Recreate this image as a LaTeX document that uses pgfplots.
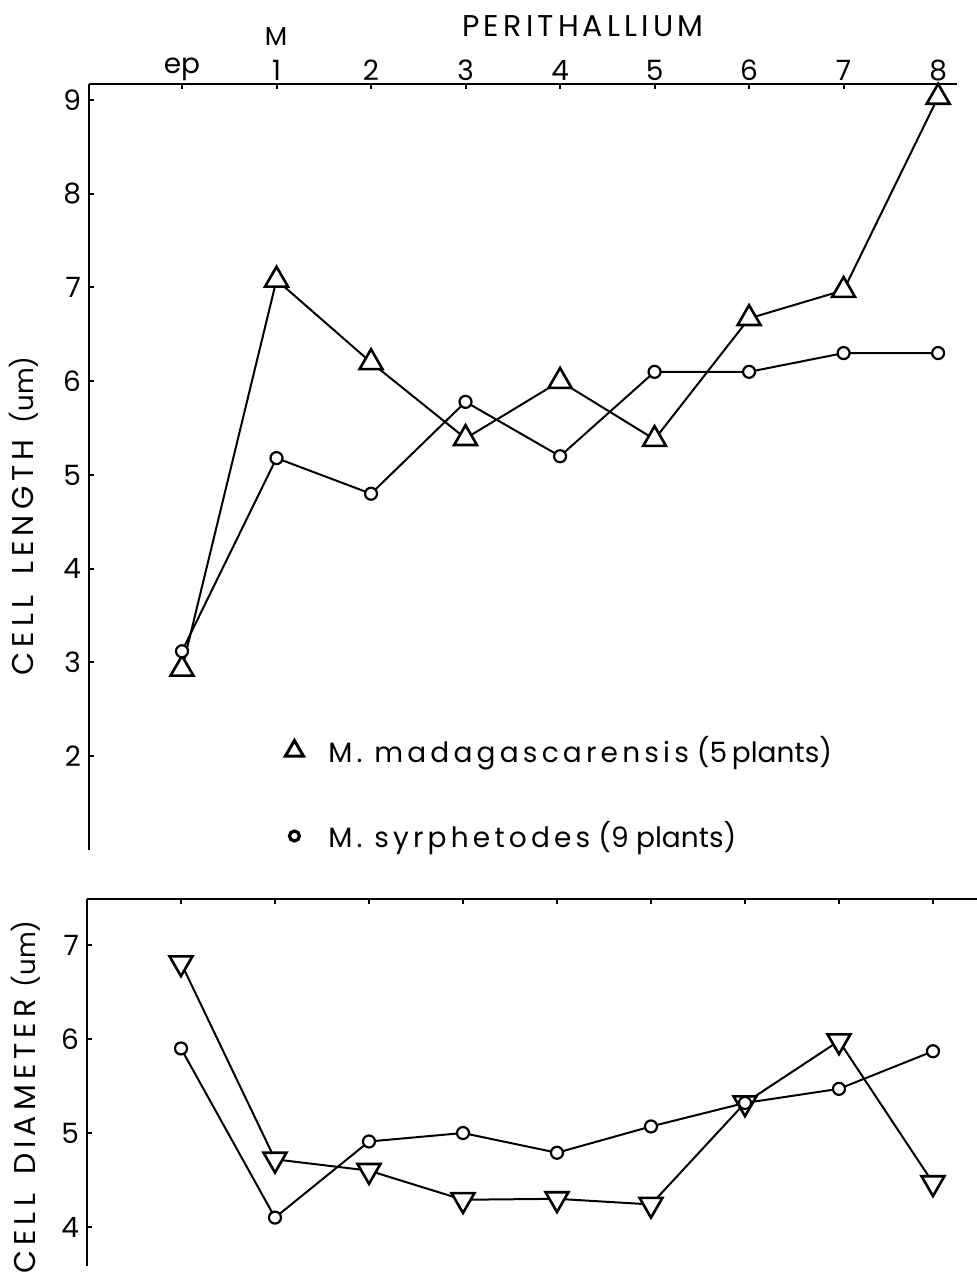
\documentclass[border=0pt]{standalone}
\usepackage{pgfplots}
\usepackage{pgfplotstable}
\pgfplotsset{compat=1.18}
\usepackage{fontspec}
\setmainfont{Poppins}
\newfontfamily\widefont[LetterSpace=17]{Poppins}
\newfontfamily\titlefont[LetterSpace=14]{Poppins}
\newfontfamily\legfont[LetterSpace=15]{Poppins}

\pgfplotstableread{
x  madL  syrL  madD  syrD
0  2.93  3.12  6.81  5.90
1  7.08  5.18  4.72  4.10
2  6.20  4.80  4.60  4.91
3  5.39  5.78  4.29  5.00
4  6.00  5.20  4.30  4.79
5  5.38  6.10  4.24  5.07
6  6.67  6.10  5.32  5.32
7  6.97  6.30  5.98  5.47
8  9.03  6.30  4.47  5.87
}\datatable

\pgfplotsset{
  base/.style={
    scale only axis, clip=false,
    axis x line=top, axis y line=left,
    axis line style={-, line width=1.2pt},
    every tick/.style={black, line width=1pt},
    tick align=inside, major tick length=2.5pt,
    xtick={0,...,8},
    /pgf/number format/assume math mode=true,
    yticklabel style={font=\fontsize{14}{14}\selectfont, xshift=-0.5pt},
    xticklabel style={font=\fontsize{14}{14}\selectfont, yshift=-2pt},
  },
  madup/.style={black, line width=1pt, mark=triangle*, mark size=6.6pt,
    mark options={fill=white, line width=1.3pt, solid}},
  maddown/.style={black, line width=1pt, mark=triangle*, mark size=6.6pt,
    mark options={fill=white, line width=1.3pt, solid, rotate=180}},
  syr/.style={black, line width=1pt, mark=*, mark size=3pt,
    mark options={fill=white, draw=black, line width=1.1pt, solid}},
}

\begin{document}
\begin{tikzpicture}
\useasboundingbox (0,0) rectangle (488.5pt,-639pt);

\begin{axis}[base,
  at={(44.5pt,-42pt)}, anchor=north west,
  width=434pt, height=383pt,
  xmin=-0.984, xmax=8.2, ymin=1.0, ymax=9.17,
  xticklabels={ep,1,2,3,4,5,6,7,8},
  ytick={2,...,9},
  legend image code/.code={\draw[#1, only marks] plot coordinates {(0pt,0pt)};},
  legend style={draw=none, fill=none, at={(axis cs:1.09,2.26)}, anchor=north west,
    font=\fontsize{14}{16}\selectfont, row sep=24pt, inner sep=0pt,
    cells={anchor=west},
    /tikz/every odd column/.append style={column sep=10.5pt}},
]
\addplot[madup, forget plot] table[x=x, y=madL] {\datatable};
\addplot[syr, forget plot] table[x=x, y=syrL] {\datatable};
\addlegendimage{black, mark=triangle*, mark size=5.2pt, mark options={fill=white, line width=1.5pt}}
\addlegendentry{{\legfont M. madagascarensis}\hspace{4pt}(5\,plants)}
\addlegendimage{black, mark=*, mark size=2.5pt, mark options={fill=white, line width=1.6pt}}
\addlegendentry{{\legfont M. syrphetodes}\hspace{4pt}(9 plants)}
\end{axis}

\begin{axis}[base,
  at={(43.5pt,-449.5pt)}, anchor=north west,
  width=446.5pt, height=183.5pt,
  xmin=-1.0, xmax=8.5, ymin=3.585, ymax=7.49,
  xticklabels={},
  ytick={4,...,7},
]
\addplot[maddown] table[x=x, y=madD] {\datatable};
\addplot[syr] table[x=x, y=syrD] {\datatable};
\end{axis}

\node[font=\titlefont\fontsize{15}{15}\selectfont] at (291.5pt,-13.25pt) {PERITHALLIUM};
\node[font=\fontsize{13}{13}\selectfont] at (138pt,-18.25pt) {M};
\node[rotate=90] at (12pt,-258pt) {{\widefont\fontsize{15}{15}\selectfont CELL\hspace{4pt} LENGTH}\hspace{8pt}{\fontsize{13}{13}\selectfont (um)}};
\node[rotate=90] at (13pt,-548.5pt) {{\widefont\fontsize{15}{15}\selectfont CELL\hspace{3pt} DIAMETER}\hspace{6pt}{\fontsize{13}{13}\selectfont (um)}};
\end{tikzpicture}
\end{document}
